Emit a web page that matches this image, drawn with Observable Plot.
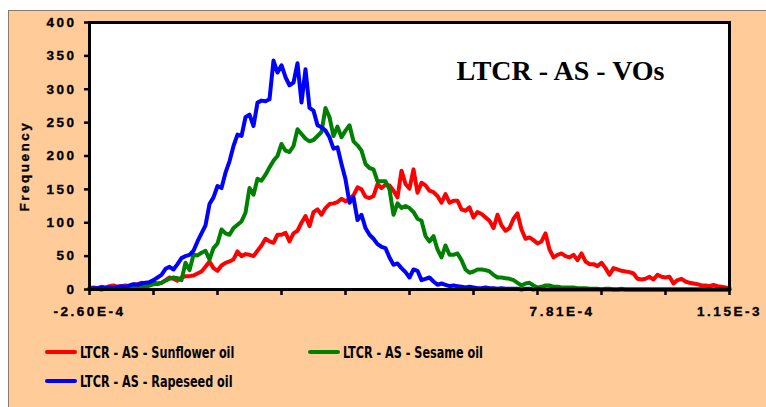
<!DOCTYPE html>
<html>
<head>
<meta charset="utf-8">
<script src="https://cdn.jsdelivr.net/npm/d3@7"></script>
<script src="https://cdn.jsdelivr.net/npm/@observablehq/plot@0.6"></script>
<style>
  html, body { margin: 0; padding: 0; background: #ffffff; }
  body { width: 766px; height: 407px; overflow: hidden; position: relative; }
  #box { position: absolute; left: 8px; top: 10px; width: 758px; height: 397px;
         background: #FFCC99; border-left: 1px solid #8c7b6b; border-top: 1px solid #8c7b6b;
         box-sizing: border-box; }
  #chart { position: absolute; left: 0; top: 0; }
  #chart svg text.ax { font-family: "Liberation Sans", Arial, sans-serif !important;
         font-size: 13.5px !important; font-weight: 700 !important; letter-spacing: 2.5px !important;
         fill: #000; stroke: #000; stroke-width: 0.35px; }
  #chart svg text.ttl { font-family: "Liberation Serif", "Times New Roman", serif !important;
         font-size: 28px !important; font-weight: 700 !important; fill: #000; }
  .leg { position: absolute; height: 20px; display: flex; align-items: center;
         font: bold 16px "DejaVu Sans Condensed", "Liberation Sans", sans-serif;
         color: #000; white-space: nowrap; }
  .leg .t { display: inline-block; transform: scaleX(0.78); transform-origin: left center; }
  .sw { width: 32px; height: 4px; border-radius: 2px; margin-right: 3px; }
</style>
</head>
<body>
<div id="box">
  <div id="chart"></div>
  <div id="legend"></div>
</div>
<script>
// ---- data ----
const seriesNames = ["LTCR - AS - Sunflower oil", "LTCR - AS - Sesame oil", "LTCR - AS - Rapeseed oil"];
const seriesColors = ["#FF0000", "#008000", "#0000FF"];
const xStart = -2.60e-4;
const xEnd = 1.15e-3;
const yTicks = [0, 50, 100, 150, 200, 250, 300, 350, 400];
const xLabelValues = [-2.60e-4, 7.81e-4, 1.15e-3];
const xLabels = ["-2.60E-4", "7.81E-4", "1.15E-3"];
const title = "LTCR - AS - VOs";
const yLabel = "Frequency";

const sunflower = [2,3,2,4,3,5,6,4,5,6, 5,7,8,10,9,10,11,8,10,14, 18,16,13,18,20,20,21,24,27,34,
  42,32,28,36,40,42,45,57,50,53, 52,50,58,66,76,72,70,82,82,85, 72,84,88,100,110,95,116,120,112,122,
  128,129,131,136,132,136,141,153,150,139, 137,140,158,152,157,156,148,138,178,158,
  151,180,145,160,156,148,146,140,130,143, 130,133,133,120,118,123,108,116,113,108,
  103,92,112,96,88,92,106,114,90,76, 78,74,69,72,84,60,48,52,54,50,
  48,52,44,54,42,38,38,35,40,32, 22,32,30,28,27,26,24,16,15,16,
  19,15,22,19,18,19,9,14,16,12, 10,9,8,6,6,5,7,5,4,3, 2];
const sesame = [0,1,1,0,1,2,1,2,2,3, 2,4,3,5,4,6,8,9,10,13, 16,18,17,14,40,29,52,51,55,58,
  45,62,69,90,84,82,92,97,102,115, 152,142,166,163,172,183,193,200,218,208,
  206,215,240,233,226,222,224,230,236,272, 258,230,244,228,238,246,222,216,208,188,
  182,180,162,162,162,150,112,129,122,125, 122,116,106,103,80,72,80,60,48,66,
  52,52,54,44,30,25,27,30,30,29, 27,22,18,18,17,16,14,10,6,9,
  10,6,3,4,6,6,4,4,3,3, 3,3,2,2,2,1,1,1,0,1, 1,0,0,1,0,0,0,0,0,0,
  0,0,0,0,0,0,0,0,0,0, 0,0,0,0,0,0,0,0,0,0, 0];
const rapeseed = [1,2,2,3,2,3,2,4,5,4, 6,8,7,9,10,11,14,18,22,31, 34,30,38,47,50,52,58,72,84,96,
  128,138,155,152,175,192,215,232,230,258, 262,245,280,283,282,285,343,325,336,318,
  306,310,339,280,330,272,268,246,243,238, 228,211,213,188,165,130,138,104,112,92,
  82,76,68,64,62,48,37,39,32,26, 18,30,28,14,16,18,12,7,9,7,
  5,6,5,4,3,4,3,2,2,3, 2,2,1,2,1,1,1,1,0,1, 1,0,1,0,0,0,0,0,0,0,
  0,0,0,0,0,0,0,0,0,0, 0,0,0,0,0,0,0,0,0,0, 0,0,0,0,0,0,0,0,0,0,
  0,0,0,0,0,0,0,0,0,0, 0];
const seriesValues = [sunflower, sesame, rapeseed];

// ---- build table ----
const nBins = sunflower.length;
const dx = (xEnd - xStart) / (nBins - 1);
const table = seriesValues.flatMap((vals, s) =>
  vals.map((v, i) => ({ series: seriesNames[s], x: xStart + i * dx, y: v })));
const xTicks = d3.range(11).map(k => xStart + k * (xEnd - xStart) / 10);

const W = 757, H = 313;
const mL = 80, mR = 37, mT = 11, mB = 35;

const chart = Plot.plot({
  width: W, height: H,
  marginLeft: mL, marginRight: mR, marginTop: mT, marginBottom: mB,
  style: { background: "transparent", color: "#000" },
  x: { domain: [xStart, xEnd], axis: null },
  y: { domain: [0, 400], axis: null },
  color: { domain: seriesNames, range: seriesColors },
  marks: [
    Plot.frame({ fill: "white", stroke: null }),
    Plot.lineY(table, { x: "x", y: "y", z: "series", stroke: "series", strokeWidth: 4,
                        strokeLinejoin: "round", strokeLinecap: "round" }),
    Plot.frame({ stroke: "black", strokeWidth: 3 }),
    Plot.axisY({ ticks: yTicks, tickSize: 5, tickPadding: 8, strokeWidth: 2.5, label: null }),
    Plot.axisX({ ticks: xTicks, tickSize: 6, strokeWidth: 2.5, tickFormat: () => "", label: null }),
    Plot.axisX({ ticks: xLabelValues, tickSize: 0, tickPadding: 17, label: null,
                 tickFormat: d => xLabels[xLabelValues.indexOf(d)] }),
    Plot.text([yLabel], { frameAnchor: "left", dx: -65, dy: 10, rotate: -90, lineAnchor: "middle",
                          textAnchor: "middle" }),
    Plot.text([title], { frameAnchor: "top", dx: 151, dy: 49, lineAnchor: "middle", textAnchor: "middle" })
  ]
});

// text styling via classes
chart.querySelectorAll("text").forEach(t => {
  t.classList.add(t.textContent === title ? "ttl" : "ax");
});
document.getElementById("chart").appendChild(chart);

// ---- legend ----
const legendPos = [[36, 331], [299, 331], [36, 360]];
const legend = document.getElementById("legend");
seriesNames.forEach((name, i) => {
  const el = document.createElement("div");
  el.className = "leg";
  el.style.left = legendPos[i][0] + "px";
  el.style.top = legendPos[i][1] + "px";
  el.innerHTML = `<span class="sw" style="background:${seriesColors[i]}"></span><span class="t">${name}</span>`;
  legend.appendChild(el);
});
</script>
</body>
</html>
